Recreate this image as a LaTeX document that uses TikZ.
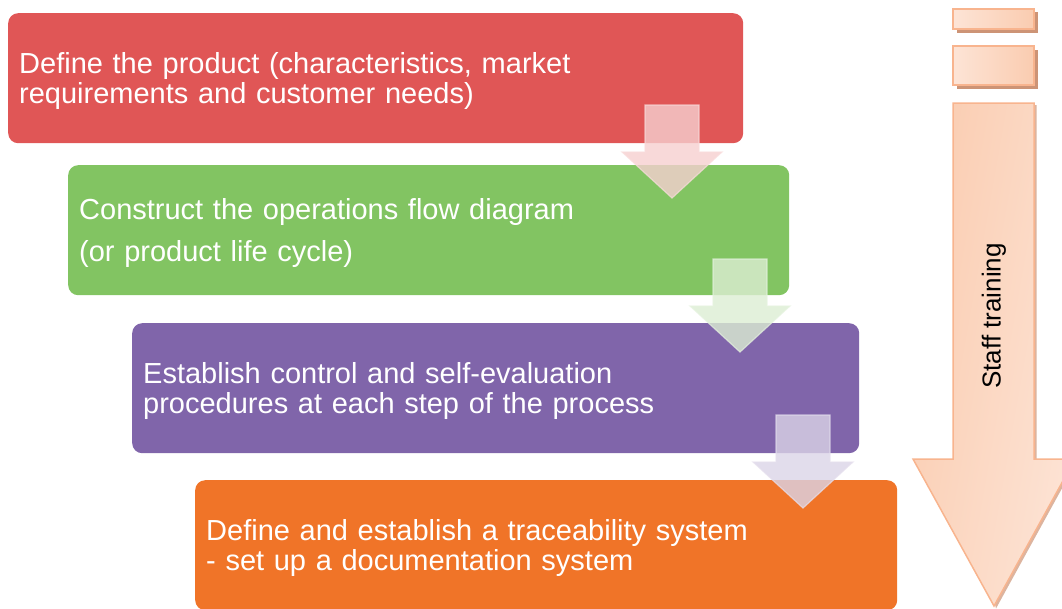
\documentclass[tikz,border=0pt]{standalone}
\usepackage{fontspec}
\setmainfont{Liberation Sans}
\usetikzlibrary{calc}
\definecolor{cred}{RGB}{224,86,86}
\definecolor{cgreen}{RGB}{130,196,98}
\definecolor{cpurple}{RGB}{128,101,170}
\definecolor{corange}{RGB}{240,116,40}
\definecolor{pkL}{RGB}{253,228,214}
\definecolor{pkR}{RGB}{250,204,176}
\definecolor{pkEdge}{RGB}{248,180,142}
\definecolor{pkShadow}{RGB}{205,148,118}
\tikzset{
  stepbox/.style={rectangle, rounded corners=10pt, inner xsep=11pt, inner ysep=0pt,
    minimum height=130pt, align=left, text=white, anchor=north west,
    font=\fontsize{29}{30.5}\selectfont},
  flowarrow/.style={line width=1.2pt, fill opacity=0.8, draw opacity=0.7},
  barstyle/.style={draw=pkEdge, line width=1.5pt, left color=pkL, right color=pkR},
  shadowstyle/.style={fill=pkShadow, draw=none}
}
\newcommand{\lift}{\rule{0pt}{26.5pt}}
\begin{document}
\begin{tikzpicture}[x=1pt,y=-1pt]
\useasboundingbox (0,0) rectangle (1062,608);
\clip (0,0) rectangle (1062,608);

% boxes
\node[stepbox, fill=cred, minimum width=735pt, text width=713pt] (b1) at (8,13)
  {\lift Define the product (characteristics, market\\requirements and customer needs)};
\node[stepbox, fill=cgreen, minimum width=721pt, text width=699pt] (b2) at (68,165)
  {\lift Construct the operations flow diagram\\[11pt](or product life cycle)};
\node[stepbox, fill=cpurple, minimum width=727pt, text width=705pt] (b3) at (132,323)
  {\lift Establish control and self-evaluation\\procedures at each step of the process};
\node[stepbox, fill=corange, minimum width=702pt, text width=680pt] (b4) at (195,480)
  {\lift Define and establish a traceability system\\- set up a documentation system};

% down arrows between boxes
\coordinate (a1) at (672,105);
\coordinate (a2) at (740,259);
\coordinate (a3) at (803,415);
\foreach \c/\col in {a1/cred, a2/cgreen, a3/cpurple}{
  \draw[flowarrow, draw=\col!20!white, fill=\col!28!white]
    ($(\c)+(-27,0)$) -- ($(\c)+(27,0)$) -- ($(\c)+(27,47)$) -- ($(\c)+(50,47)$)
    -- ($(\c)+(0,93)$) -- ($(\c)+(-50,47)$) -- ($(\c)+(-27,47)$) -- cycle;
}

% staff training bars and arrow
\fill[shadowstyle] (957,12) rectangle (1038,33);
\draw[barstyle] (953,9) rectangle (1034,29);
\fill[shadowstyle] (957,50) rectangle (1038,89);
\draw[barstyle] (953,46) rectangle (1034,85);
\fill[shadowstyle, opacity=0.7] (958,105) -- (1036.5,105) -- (1036.5,461) -- (1077,461) -- (996,608.5) -- (994,600) -- cycle;
\node[draw=none, inner sep=0pt] (st) at (994,316) {};
\draw[draw=pkEdge, line width=1.5pt, left color=pkR, right color=pkL, shading angle=80]
  (953,103) -- (1034,103) -- (1034,459) -- (1075,459) -- (994,606) -- (913,459) -- (953,459) -- cycle;
\node[rotate=90, font=\fontsize{26}{30}\selectfont, text=black] (stl) at (st) {Staff training};
\end{tikzpicture}
\end{document}
